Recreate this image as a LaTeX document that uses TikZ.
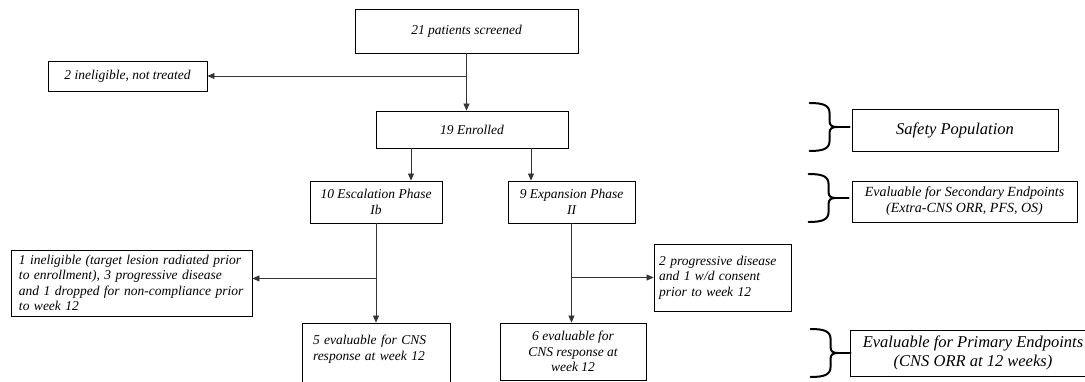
\documentclass[tikz,border=0pt]{standalone}
\usepackage{fontspec}
\setmainfont{Liberation Serif}
\usetikzlibrary{calc,backgrounds,arrows.meta}
\newcommand{\boxfont}{\fontsize{13.5}{15.5}\selectfont\itshape}
\newcommand{\midfont}{\fontsize{14}{16}\selectfont\itshape}
\newcommand{\bigfont}{\fontsize{16.5}{19}\selectfont\itshape}

\begin{document}
\begin{tikzpicture}[%
    x=1pt, y=-1pt,%
    show background rectangle,%
    inner frame sep=0pt,%
    background rectangle/.style={fill=white}%
  ]
  % Flow chart of the study

  %
  % Definitions
  %
  \tikzset{
    flowbox/.style={draw, line width=0.9pt, font=\boxfont, inner xsep=10pt, inner ysep=2pt, align=center},
    flow/.style={line width=0.8pt, draw=black!80, -{Triangle[length=7pt,width=6pt]}},
    bracestroke/.style={line width=2pt, line cap=round},
    groupbrace/.pic={
      \draw[bracestroke] (-40,-24) .. controls (-27,-24) and (-20,-22) .. (-20,-14)
        -- (-20,-6) .. controls (-20,-2) and (-18,0) .. (-13,0)
        .. controls (-18,0) and (-20,2) .. (-20,6)
        -- (-20,14) .. controls (-20,22) and (-27,24) .. (-40,24);
      \draw[bracestroke] (-15,0) -- (0,0);
    },
  }
  \pgfmathsetmacro{\xesc}{376};%
  \pgfmathsetmacro{\xexp}{571.5};%
  \pgfmathsetmacro{\yscr}{31};%
  \pgfmathsetmacro{\yenr}{129.5};%
  \pgfmathsetmacro{\yphase}{202};%

  \useasboundingbox (0,0) rectangle (1085,382);

  %
  % Drawing
  %
  % Screening and enrolment
  \node[flowbox, minimum width=223pt, minimum height=44pt] (screen) at (466.5,\yscr) {21 patients screened};
  \node[flowbox, minimum width=159pt, minimum height=30pt] (inel) at (127.5,76) {2 ineligible, not treated};
  \node[flowbox, minimum width=192pt, minimum height=37pt] (enrol) at (472,\yenr) {19 Enrolled};

  % Phases
  \node[flowbox, minimum width=132pt, minimum height=42pt] (escal) at (\xesc,\yphase) {10 Escalation Phase\\Ib};
  \node[flowbox, minimum width=127pt, minimum height=42pt] (expan) at (\xexp,\yphase) {9 Expansion Phase\\II};

  % Drop-outs
  \node[flowbox, minimum width=241pt, minimum height=66pt, text width=225pt, inner xsep=8pt, align=left] (dropL) at (131.5,283)
  {1 ineligible (target lesion radiated prior\\to enrollment), 3 progressive disease\\and 1 dropped for non-compliance prior\\to week 12};
  \node[flowbox, minimum width=137pt, minimum height=67pt, text width=127pt, inner xsep=5pt, align=left] (progR) at (722.5,277.5)
  {\mbox{2 progressive disease}\\and 1 w/d consent\\prior to week 12};

  % Evaluable at week 12
  \node[flowbox, minimum width=148pt, minimum height=80pt, text width=126pt, align=left] (evalfive) at (\xesc,363)
  {5 evaluable for CNS\\response at week 12\\\mbox{}\\\mbox{}};
  \node[flowbox, minimum width=146pt, minimum height=57pt] (evalsix) at (573,351.5)
  {6 evaluable for\\CNS response at\\week 12};

  % Populations
  \node[flowbox, font=\bigfont, minimum width=206pt, minimum height=42pt] (safe) at (955,130) {Safety Population};
  \node[flowbox, font=\midfont, minimum width=225pt, minimum height=41pt, inner xsep=4pt] (second) at (964.5,201.5)
  {Evaluable for Secondary Endpoints\\(Extra-CNS ORR, PFS, OS)};
  \node[flowbox, font=\bigfont, minimum width=246pt, minimum height=46pt, inner xsep=2pt] (prim) at (973,353)
  {Evaluable for Primary Endpoints\\(CNS ORR at 12 weeks)};

  % Connectors
  \draw[flow] (screen.south) -- (screen.south |- enrol.north);%
  \draw[flow] (screen.south |- inel.east) -- (inel.east);%
  \coordinate (escIn) at ($(escal.north)+(35,0)$);%
  \coordinate (expIn) at ($(expan.north)+(-40.5,0)$);%
  \draw[flow] (enrol.south -| escIn) -- (escIn);%
  \draw[flow] (enrol.south -| expIn) -- (expIn);%

  \draw[flow] (escal.south) -- (evalfive.north);%
  \coordinate (escBr) at ($(escal.south)+(0,55)$);%
  \draw[flow] (escBr) -- (escBr -| dropL.east);%
  \draw[flow] (expan.south) -- (expan.south |- evalsix.north);%
  \draw[flow] (expan.south |- progR.west) -- (progR.west);%

  % Braces
  \pic at ($(safe.west)+(-2,-3)$) {groupbrace};
  \pic at ($(second.west)+(-3,-3.5)$) {groupbrace};
  \pic at ($(prim.west)+(1,0)$) {groupbrace};

\end{tikzpicture}
\end{document}
